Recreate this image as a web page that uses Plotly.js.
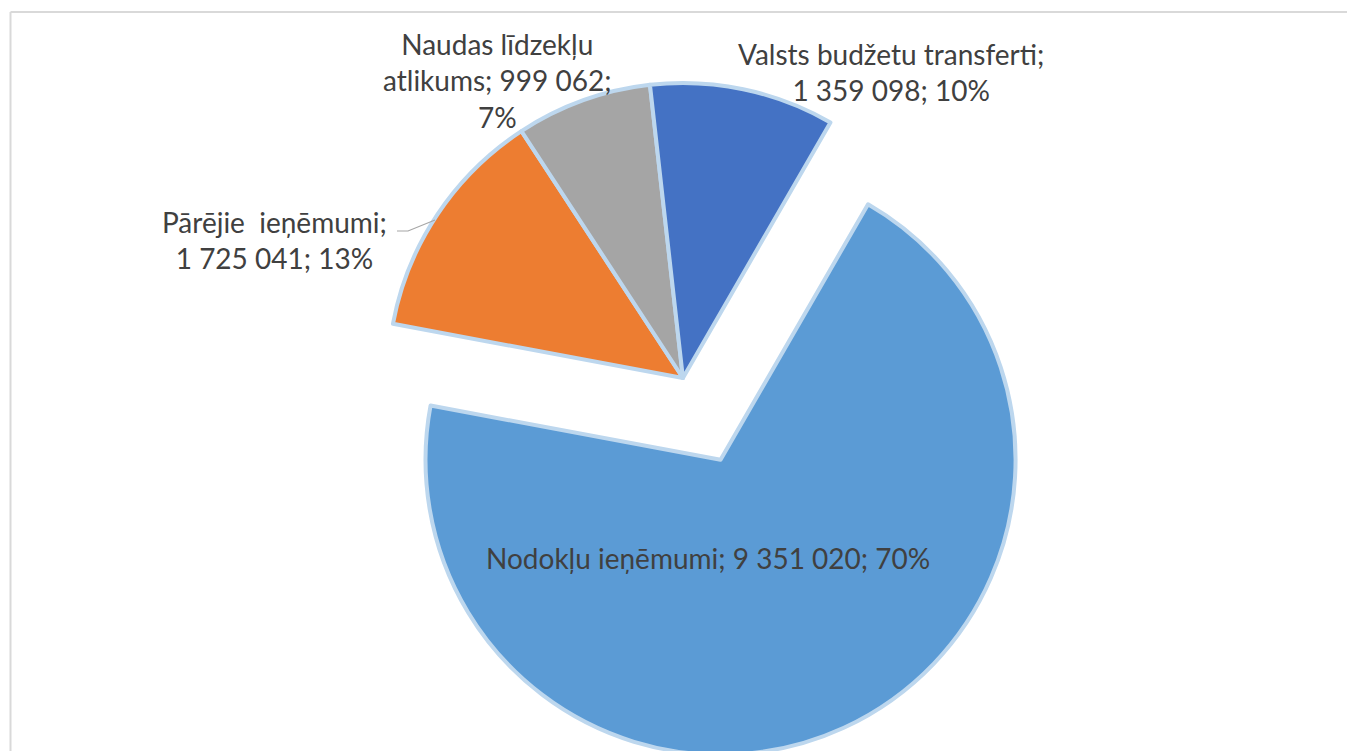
<!DOCTYPE html>
<html>
<head>
<meta charset="utf-8">
<script src="https://cdn.plot.ly/plotly-3.0.1.min.js"></script>
<style>
  html, body { margin: 0; padding: 0; background: #ffffff; overflow: hidden; }
  #chart { position: absolute; left: 0; top: -20px; width: 1347px; height: 800px; }
</style>
</head>
<body>
<div id="chart"></div>
<script>
// ---- data ----
const labels = ["Nodokļu ieņēmumi", "Pārējie  ieņēmumi", "Naudas līdzekļu atlikums", "Valsts budžetu transferti"];
const values = [9351020, 1725041, 999062, 1359098];
const colors = ["#5b9bd5", "#ed7d31", "#a5a5a5", "#4472c4"];
const pulls  = [0.305, 0, 0, 0];

// ---- layout helpers ----
const W = 1347, H = 800, OFF = 20;
const px = x => x / W;
const py = y => 1 - (y + OFF) / H;

const total = values.reduce((a, b) => a + b, 0);
const fmt = v => v.toString().replace(/\B(?=(\d{3})+(?!\d))/g, ' ');
const pct = v => Math.round(v / total * 100) + '%';

// label wrapping and placement (screen px centres)
const dispLabels = ["Nodokļu ieņēmumi", "Pārējie&nbsp; ieņēmumi", "Naudas līdzekļu<br>atlikums", "Valsts budžetu transferti"];
const sep1 = [" ", "<br>", " ", "<br>"];
const sep2 = [" ", " ", "<br>", " "];
const labelPos = [[708, 558], [274, 240], [497, 80], [891, 72]];

const annotations = labels.map((l, i) => ({
  text: dispLabels[i] + ";" + sep1[i] + fmt(values[i]) + ";" + sep2[i] + pct(values[i]),
  xref: "paper", yref: "paper",
  x: px(labelPos[i][0]), y: py(labelPos[i][1]),
  xanchor: "center", yanchor: "middle",
  showarrow: false, align: "center",
  font: { family: "Lato, 'Open Sans', sans-serif", size: 28, color: "#404040" }
}));

const shapes = [
  // chart frame (top & left visible)
  { type: "line", xref: "paper", yref: "paper", x0: px(10.5), x1: px(1360), y0: py(12), y1: py(12),
    line: { color: "#d9d9d9", width: 2 } },
  { type: "line", xref: "paper", yref: "paper", x0: px(10.5), x1: px(10.5), y0: py(12), y1: py(800),
    line: { color: "#d9d9d9", width: 2 } },
  // leader line for Pārējie
  { type: "path", xref: "paper", yref: "paper",
    path: `M ${px(397)} ${py(231)} L ${px(408)} ${py(231)} L ${px(435)} ${py(220)}`,
    line: { color: "#a6a6a6", width: 1.2 } }
];

const trace = {
  type: "pie",
  labels: labels,
  values: values,
  sort: false,
  direction: "clockwise",
  rotation: 30,
  pull: pulls,
  textinfo: "none",
  hoverinfo: "label+value+percent",
  marker: { colors: colors, line: { color: "#bdd7ee", width: 4 } },
  domain: { x: [0.057, 0.957], y: [0.02125, 0.98375] },
  showlegend: false
};

const layout = {
  width: W, height: H,
  margin: { l: 0, r: 0, t: 0, b: 0 },
  paper_bgcolor: "#ffffff",
  showlegend: false,
  annotations: annotations,
  shapes: shapes
};

Plotly.newPlot("chart", [trace], layout, { displayModeBar: false, staticPlot: true });
</script>
</body>
</html>
